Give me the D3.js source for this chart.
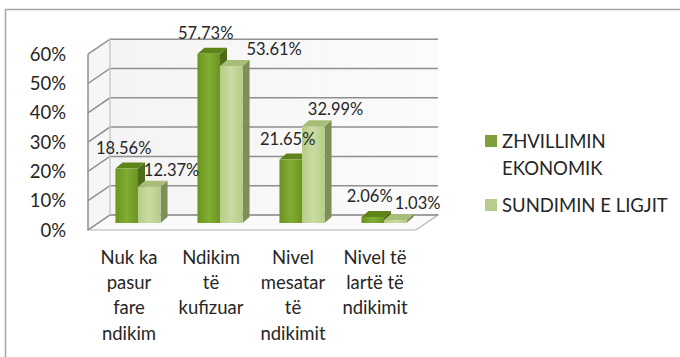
<!DOCTYPE html>
<html>
<head>
<meta charset="utf-8">
<script src="https://cdn.jsdelivr.net/npm/d3@7"></script>
<style>
  html, body { margin: 0; padding: 0; background: #fff; }
  svg { display: block; }
  text { font-family: Lato, "Open Sans", sans-serif; fill: #262626; }
</style>
</head>
<body>
<svg id="chart" width="680" height="357"></svg>
<script>
// Category labels (line breaks as drawn under the axis)
const categories = [
  "Nuk ka\npasur\nfare\nndikim",
  "Ndikim\ntë\nkufizuar",
  "Nivel\nmesatar\ntë\nndikimit",
  "Nivel të\nlartë të\nndikimit"
];
const seriesNames = ["ZHVILLIMIN EKONOMIK", "SUNDIMIN E LIGJIT"];
const legendLines = [["ZHVILLIMIN", "EKONOMIK"], ["SUNDIMIN E LIGJIT"]];
const economicValues = [18.56, 57.73, 21.65, 2.06];
const lawValues = [12.37, 53.61, 32.99, 1.03];
const yTicks = [0, 10, 20, 30, 40, 50, 60];

const svg = d3.select("#chart");

// 3D box geometry: front plane, depth offset of the back wall
const front = { x0: 88, x1: 416, y0: 230 };
const depth = { dx: 22, dy: -15 };
const barShift = { dx: 9, dy: -7 };   // bar front face sits inside the box
const barDepth = { dx: 7, dy: -6 };   // thickness of each column

const y = d3.scaleLinear().domain([0, 60]).range([front.y0, front.y0 - 60 * 2.93]);
const x = d3.scaleBand().domain(d3.range(categories.length)).range([front.x0, front.x1]);
const bw = x.bandwidth();
const xs = d3.scaleBand().domain(d3.range(seriesNames.length)).range([bw * 0.225, bw * 0.775]);

// outer chart frame
svg.append("rect")
  .attr("x", 5.5).attr("y", 9.5).attr("width", 720).attr("height", 400)
  .attr("fill", "none").attr("stroke", "#a6a6a6").attr("stroke-width", 1.5);

const defs = svg.append("defs");
const wallGrad = defs.append("linearGradient").attr("id", "wall").attr("x1", 0).attr("x2", 1).attr("y1", 0).attr("y2", 0);
wallGrad.append("stop").attr("offset", 0).attr("stop-color", "#f4f4f4");
wallGrad.append("stop").attr("offset", 1).attr("stop-color", "#fbfbfb");

function grad(id, c0, c1) {
  const g = defs.append("linearGradient").attr("id", id).attr("x1", 0).attr("x2", 1).attr("y1", 0).attr("y2", 0);
  g.append("stop").attr("offset", 0).attr("stop-color", c0);
  g.append("stop").attr("offset", 0.5).attr("stop-color", c1);
  g.append("stop").attr("offset", 1).attr("stop-color", c0);
}
grad("darkFront", "#6b9420", "#82ad33");
grad("lightFront", "#b6cc86", "#c9dca4");

const seriesStyle = [
  { front: "url(#darkFront)", top: "#5e8419", side: "#4d6c17", legend: "#7f9f3a" },
  { front: "url(#lightFront)", top: "#a8bd78", side: "#7c8f55", legend: "#b9cc8f" }
];

const yTop = y(60);
const pts = a => a.map(p => p.join(",")).join(" ");

// back wall and side wall
svg.append("polygon")
  .attr("points", pts([
    [front.x0 + depth.dx, yTop + depth.dy], [front.x1 + depth.dx, yTop + depth.dy],
    [front.x1 + depth.dx, front.y0 + depth.dy], [front.x0 + depth.dx, front.y0 + depth.dy]]))
  .attr("fill", "url(#wall)");
svg.append("polygon")
  .attr("points", pts([
    [front.x0, yTop], [front.x0 + depth.dx, yTop + depth.dy],
    [front.x0 + depth.dx, front.y0 + depth.dy], [front.x0, front.y0]]))
  .attr("fill", "#f6f6f6");

// floor
svg.append("polygon")
  .attr("points", pts([
    [front.x0, front.y0], [front.x1, front.y0],
    [front.x1 + depth.dx, front.y0 + depth.dy], [front.x0 + depth.dx, front.y0 + depth.dy]]))
  .attr("fill", "#fafafa").attr("stroke", "#b3b3b3").attr("stroke-width", 1.2);

// gridlines on the side wall and back wall
const grid = svg.append("g").attr("fill", "none").attr("stroke", "#8f8f8f").attr("stroke-width", 1.5);
yTicks.forEach(t => {
  grid.append("polyline").attr("points", pts([
    [front.x0, y(t)], [front.x0 + depth.dx, y(t) + depth.dy], [front.x1 + depth.dx, y(t) + depth.dy]]));
});
grid.append("line")
  .attr("x1", front.x0).attr("x2", front.x0).attr("y1", yTop).attr("y2", front.y0);
grid.append("line").attr("stroke", "#c8c8c8")
  .attr("x1", front.x0 + depth.dx).attr("x2", front.x0 + depth.dx)
  .attr("y1", yTop + depth.dy).attr("y2", front.y0 + depth.dy);

// y axis labels
svg.append("g").selectAll("text").data(yTicks).join("text")
  .attr("x", 66).attr("y", d => y(d)).attr("dy", "0.36em")
  .attr("text-anchor", "end").attr("font-size", 18.5)
  .text(d => d + "%");

// columns
const seriesData = [economicValues, lawValues];
const bars = svg.append("g");
const barGeom = [];
categories.forEach((c, i) => {
  seriesData.forEach((vals, s) => {
    const v = vals[i];
    const bx = x(i) + xs(s) + barShift.dx;
    const w = xs.bandwidth();
    const base = front.y0 + barShift.dy;
    const h = y(0) - y(v);
    const top = base - h;
    const st = seriesStyle[s];
    const g = bars.append("g");
    // side face
    g.append("polygon").attr("points", pts([
      [bx + w, top], [bx + w + barDepth.dx, top + barDepth.dy],
      [bx + w + barDepth.dx, base + barDepth.dy], [bx + w, base]])).attr("fill", st.side);
    // top face
    g.append("polygon").attr("points", pts([
      [bx, top], [bx + barDepth.dx, top + barDepth.dy],
      [bx + w + barDepth.dx, top + barDepth.dy], [bx + w, top]])).attr("fill", st.top);
    // front face
    g.append("rect").attr("x", bx).attr("y", top).attr("width", w).attr("height", h)
      .attr("fill", st.front);
    barGeom.push({ i, s, v, bx, w, top });
  });
});

// value labels: first series centred over its column, second series to the
// right of its column; a second-series label that would overlap the
// first-series label of the same category is pushed further right.
const labelG = svg.append("g").attr("font-size", 16.5);
const placed = {};
barGeom.forEach(d => {
  const t = labelG.append("text").attr("dy", "0.36em").text(d.v.toFixed(2) + "%");
  const len = t.node().getComputedTextLength();
  let cx, cy;
  if (d.s === 0) {
    cx = d.bx + d.w / 2 - 3;
    cy = d.top - 21;
  } else {
    cx = d.bx + d.w + barDepth.dx + 4;
    cy = d.top - 17;
    const o = placed[d.i];
    if (o && Math.abs(o.cy - cy) < 20 && cx - len / 2 < o.right) {
      cx = o.right + 13 + len / 2;
    }
  }
  t.attr("x", cx).attr("y", cy).attr("text-anchor", "middle");
  if (d.s === 0) placed[d.i] = { cy, right: cx + len / 2 };
});

// category labels
const catG = svg.append("g");
categories.forEach((c, i) => {
  const t = catG.append("text")
    .attr("x", x(i) + bw / 2).attr("y", 257)
    .attr("text-anchor", "middle").attr("font-size", 18.5);
  c.split("\n").forEach((line, j) => {
    t.append("tspan").attr("x", x(i) + bw / 2).attr("dy", j === 0 ? "0.36em" : 25.3).text(line);
  });
});

// legend
const legend = svg.append("g");
const legendY = [141, 205];
seriesNames.forEach((name, s) => {
  legend.append("rect")
    .attr("x", 485).attr("y", legendY[s] - 6).attr("width", 12).attr("height", 12)
    .attr("fill", seriesStyle[s].legend);
  const t = legend.append("text").attr("x", 502).attr("y", legendY[s]).attr("font-size", 18.5);
  legendLines[s].forEach((line, j) => {
    t.append("tspan").attr("x", 502).attr("dy", j === 0 ? "0.36em" : 27).text(line);
  });
});
</script>
</body>
</html>
